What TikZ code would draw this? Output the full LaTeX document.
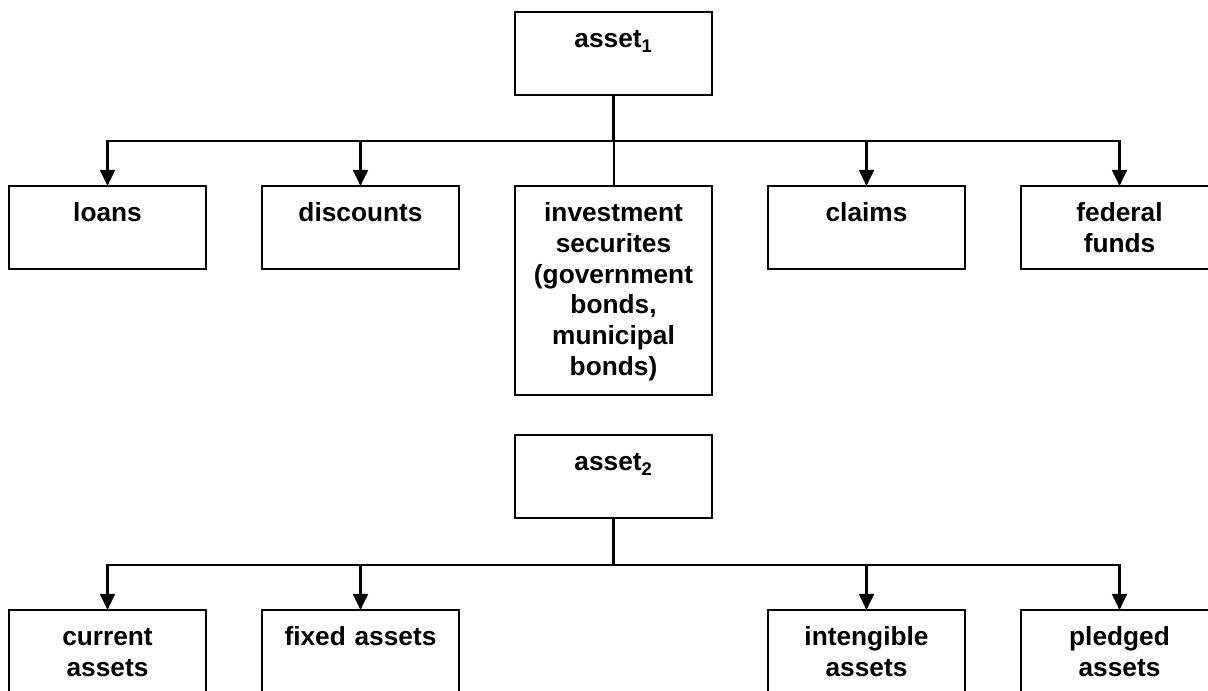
\documentclass[tikz,border=0pt]{standalone}
\usepackage{fontspec}
\setmainfont{Liberation Sans}
\usetikzlibrary{positioning, arrows.meta}

\begin{document}
\begin{tikzpicture}[x=0.75pt, y=-0.75pt, node distance=42pt,
    every node/.style={font=\fontsize{19.7}{23}\selectfont\bfseries}]
    \tikzstyle{acct} = [rectangle, draw, line width=1.5pt, inner sep=0pt, outer sep=0pt, text width=147.75pt, align=center, text height=27pt, text depth=35.25pt]
    \tikzstyle{wire} = [line width=2.1pt]
    \tikzstyle{drop} = [wire, -{Triangle[length=12pt, width=11pt]}]
    \useasboundingbox (0,0) rectangle (1208,691);

    % first tree
    \node [acct, anchor=north] (a1) at (613.5,12) {asset\textsubscript{1}};
    \node [acct, anchor=north, text depth=129.75pt] (inv) at (613.5,186) {investment\\ securites\\ (government\\ bonds,\\ municipal\\ bonds)};
    \node [acct, left=of inv.north west, anchor=north east] (disc) {discounts};
    \node [acct, left=of disc] (loans) {loans};
    \node [acct, right=of inv.north east, anchor=north west] (claims) {claims};
    \node [acct, right=of claims] (fed) {federal\\ funds};

    \coordinate [below=34.5pt of a1] (hub1);
    \draw [wire] (a1) -- (hub1);
    \foreach \n in {loans, disc, claims, fed}
        \draw [drop] (hub1) -| (\n);
    \draw [line width=1.5pt] (hub1) -- (inv);

    % second tree
    \node [acct, below=30pt of inv] (a2) {asset\textsubscript{2}};
    \node [acct, below=255.75pt of loans] (cur) {current\\ assets};
    \node [acct, below=255.75pt of disc] (fix) {fixed assets};
    \node [acct, below=255.75pt of claims] (intg) {intengible\\ assets};
    \node [acct, below=255.75pt of fed] (pledge) {pledged\\ assets};

    \coordinate [below=35.25pt of a2] (hub2);
    \draw [wire] (a2) -- (hub2);
    \foreach \n in {cur, fix, intg, pledge}
        \draw [drop] (hub2) -| (\n);
\end{tikzpicture}
\end{document}
